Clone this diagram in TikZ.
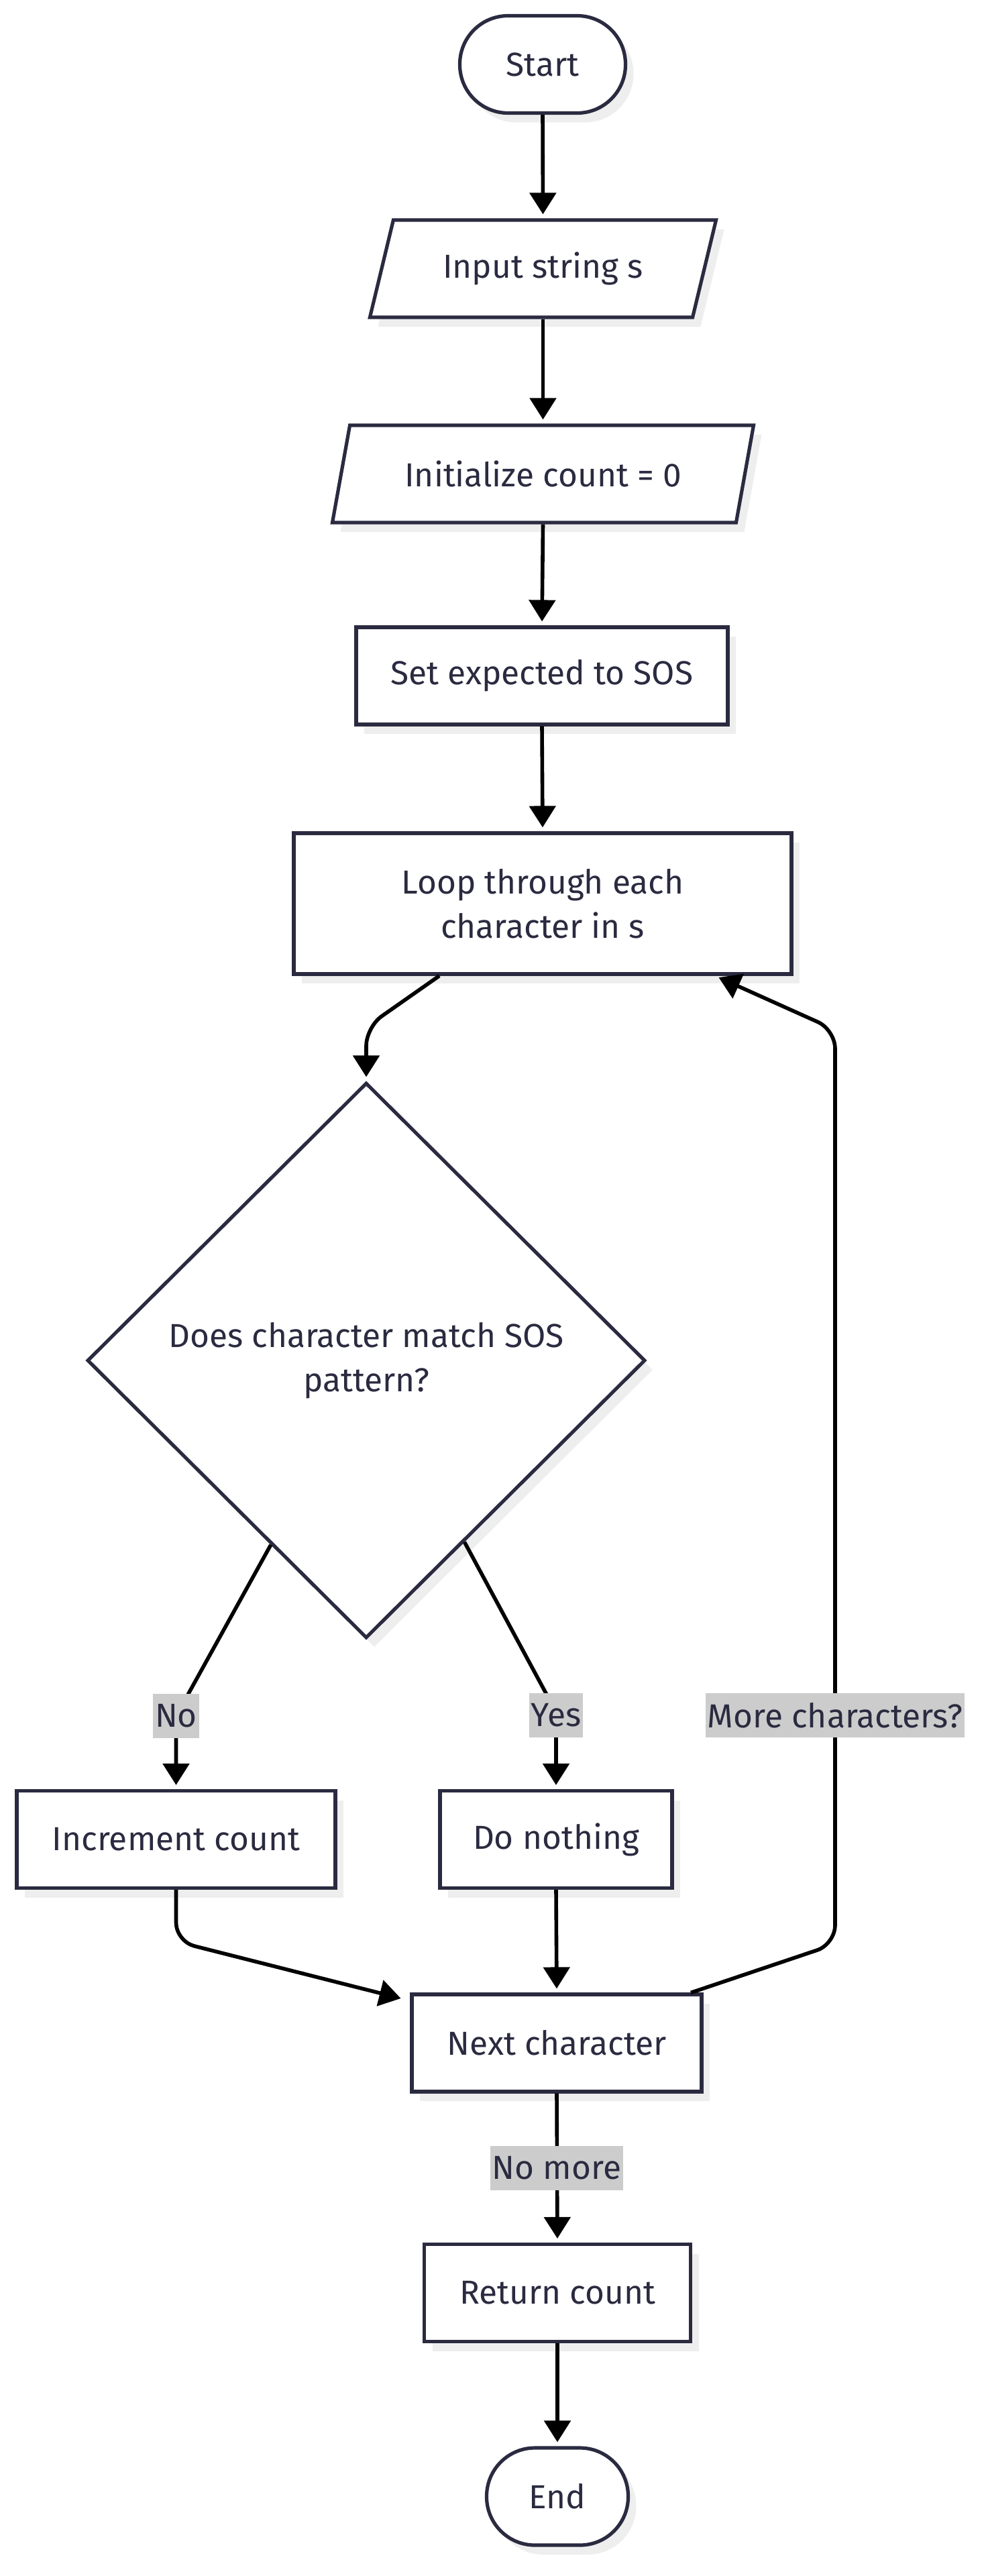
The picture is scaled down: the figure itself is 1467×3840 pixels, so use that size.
\documentclass[tikz,border=0pt]{standalone}
\usepackage{fontspec}
\setmainfont{Fira Sans}
\usetikzlibrary{arrows.meta,shapes.geometric,shadows,calc}
\definecolor{ink}{HTML}{2A2A40}
\definecolor{shade}{HTML}{EEEEEE}
\definecolor{lblgray}{HTML}{CCCCCC}
\newcommand\mainsize{\fontsize{24.8}{33}\selectfont}
\begin{document}
\begin{tikzpicture}[x=0.5pt,y=-0.5pt,
  base/.style={draw=ink, line width=2.6pt, fill=white, text=ink, font=\mainsize, inner sep=0pt, align=center,
    drop shadow={shadow xshift=6pt, shadow yshift=-7pt, fill=shade, opacity=1}},
  proc/.style={base, rectangle, minimum height=72.5pt},
  term/.style={base, rectangle, rounded corners=36pt, minimum height=72.5pt},
  io/.style={base, trapezium, trapezium left angle=64.6, trapezium right angle=115.4, trapezium stretches=true, minimum height=72.5pt},
  decision/.style={base, diamond, minimum width=416pt, minimum height=414pt},
  lbl/.style={fill=lblgray, text=ink, font=\mainsize, inner xsep=1.5pt, inner ysep=0pt, minimum height=33pt},
  arr/.style={-{Triangle[length=16pt,width=19.5pt]}, line width=2.8pt, draw=black, rounded corners=14pt, shorten >=3pt}
]
\useasboundingbox (0,0) rectangle (1467,3840);

% nodes
\node[term, minimum width=123.5pt] (start) at (809,96) {Start};
\node[io, minimum width=258.5pt] (input) at (809.5,400.5) {Input string s};
\node[io, minimum width=314.5pt] (init) at (809.5,706.5) {Initialize count = 0};
\node[proc, minimum width=277pt] (set) at (808,1007.5) {Set expected to SOS};
\node[proc, minimum width=371pt, minimum height=105pt] (loop) at (809,1347) {Loop through each\\character in s};
\node[decision] (dia) at (546,2028) {Does character match SOS\\pattern?};
\node[proc, minimum width=237.5pt] (inc) at (262.5,2742) {Increment count};
\node[proc, minimum width=173pt] (dn) at (829,2742) {Do nothing};
\node[proc, minimum width=216pt] (next) at (830,3045.5) {Next character};
\node[proc, minimum width=198.5pt] (ret) at (831,3418) {Return count};
\node[term, minimum width=105.5pt] (endn) at (831,3721.5) {End};

% helper coordinates
\coordinate (cloop) at (546,1531);
\coordinate (dl) at ($(dia.south)!0.34!(dia.west)$);
\coordinate (dr) at ($(dia.south)!0.35!(dia.east)$);
\coordinate (cno) at (262.5,2558);
\coordinate (cyes) at (829,2552);
\coordinate (cinc) at (262.5,2894);
\coordinate (nextin) at ($(next.north west)+(-8,10)$);
\coordinate (nextout) at ($(next.north)+(200,0)$);
\coordinate (cb1) at (1245,2898);
\coordinate (cmore) at (1245,2557);
\coordinate (cb2) at (1245,1535);
\coordinate (loopin) at ($(loop.south)+(257,0)$);
\coordinate (loopout) at ($(loop.south)+(-154,0)$);

% connectors
\draw[arr] (start.south) -- (input.center |- input.north);
\draw[arr] (input.center |- input.south) -- (init.center |- init.north);
\draw[arr] (init.center |- init.south) -- (set.north);
\draw[arr] (set.south) -- (loop.north);
\draw[arr] (loopout) -- (cloop) -- (dia.north);
\draw[arr] (dl) -- (cno) -- (inc.north);
\draw[arr] (dr) -- (cyes) -- (dn.north);
\draw[arr] (inc.south) -- (cinc) -- (nextin);
\draw[arr] (dn.south) -- (next.north);
\draw[arr] (nextout) -- (cb1) -- (cb2) -- (loopin);
\draw[arr] (next.south) -- (ret.north);
\draw[arr] (ret.south) -- (endn.north);

% labels
\node[lbl] (lno) at (cno) {No};
\node[lbl] (lyes) at (829,2557) {Yes};
\node[lbl] (lmore) at (cmore) {More characters?};
\node[lbl] (lnomore) at (830,3232) {No more};
\end{tikzpicture}
\end{document}
